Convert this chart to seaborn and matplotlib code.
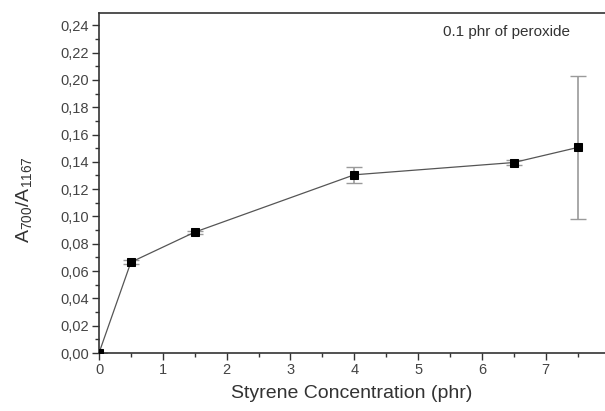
import matplotlib
matplotlib.use("Agg")
import matplotlib.pyplot as plt
import seaborn as sns
import pandas as pd
from matplotlib.ticker import MultipleLocator, FuncFormatter

styrene = [0, 0.5, 1.5, 4, 6.5, 7.5]
ratio = [0.000, 0.0665, 0.0885, 0.1305, 0.1395, 0.1505]
err = [0.000, 0.0015, 0.001, 0.006, 0.0015, 0.052]
x_ticks = [0, 1, 2, 3, 4, 5, 6, 7, 8]
y_ticks = [0.00, 0.02, 0.04, 0.06, 0.08, 0.10, 0.12, 0.14, 0.16, 0.18, 0.20, 0.22, 0.24]

df = pd.DataFrame({"x": styrene, "y": ratio, "e": err})

sns.set_style("ticks")
plt.rcParams['font.family'] = ['Liberation Sans', 'DejaVu Sans']
plt.rcParams['mathtext.fontset'] = 'custom'
plt.rcParams['mathtext.rm'] = 'Liberation Sans'
plt.rcParams['mathtext.it'] = 'Liberation Sans'

fig = plt.figure(figsize=(6.05, 4.11), dpi=100)
ax = fig.add_axes([99/605, 58/411, 510.5/605, 340/411])

ax.errorbar(df["x"], df["y"], yerr=df["e"], fmt='none', ecolor='#9a9a9a',
            elinewidth=1.2, capsize=6, capthick=1.0, zorder=1)
sns.lineplot(data=df, x="x", y="y", ax=ax, color='#555555', linewidth=0.9,
             marker='s', markersize=6, markerfacecolor='black',
             markeredgecolor='black', zorder=3)

ax.set_xlim(0, 8)
ax.set_ylim(0, 0.249)
ax.set_xticks(x_ticks)
ax.set_yticks(y_ticks)
ax.xaxis.set_minor_locator(MultipleLocator(0.5))
ax.yaxis.set_minor_locator(MultipleLocator(0.01))
ax.yaxis.set_major_formatter(FuncFormatter(lambda v, p: f"{v:.2f}".replace('.', ',')))
ax.xaxis.set_major_formatter(FuncFormatter(lambda v, p: f"{int(round(v))}"))
ax.tick_params(which='major', direction='out', length=5, width=1, labelsize=10.5,
               colors='#333333', labelcolor='#444444', pad=2)
ax.tick_params(axis='x', which='major', pad=2)
ax.tick_params(which='minor', direction='out', length=3, width=1, colors='#333333')
for s in ax.spines.values():
    s.set_color('#333333')
    s.set_linewidth(1.2)

ax.set_xlabel("Styrene Concentration (phr)", fontsize=14, color='#333333')
ax.xaxis.set_label_coords((352 - 99) / 510.5, -(385 - 353) / 340)
ax.set_ylabel(r"$\mathregular{A_{700}/A_{1167}}$", fontsize=14, color='#333333')
ax.yaxis.set_label_coords((34 - 99) / 510.5, (353 - 200) / 340)
fig.text(443/605, 1 - 32/411, "0.1 phr of peroxide", fontsize=11, color='#333333',
         va='center', ha='left')

fig.savefig("out.png", dpi=100)
